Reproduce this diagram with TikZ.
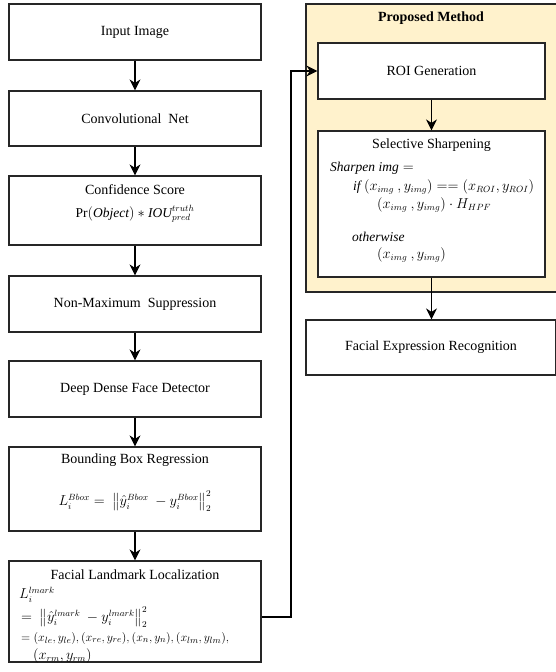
\documentclass[tikz,border=0pt]{standalone}
\usepackage{amsmath}
\usepackage{amssymb}
\usepackage{fontspec}
\setmainfont{Liberation Serif}
\usetikzlibrary{arrows.meta}
\definecolor{panelyellow}{RGB}{255,242,204}
\def\panelbox{(306,4) rectangle (558,292)}

\tikzset{
  box/.style={draw=black!85,line width=1.2pt,fill=white,inner sep=0pt},
  title/.style={font=\fontsize{14}{16}\selectfont},
  eqn/.style={font=\fontsize{13.5}{15}\selectfont,inner sep=0pt},
  arr/.style={-{Stealth[length=11pt,width=11pt,inset=3.5pt]},line width=1.1pt,black}
}

\begin{document}
\begin{tikzpicture}[x=1pt,y=-1pt]
			\useasboundingbox (0,0) rectangle (555,672);
			\fill[panelyellow] \panelbox;
			\draw[black!85,line width=1.2pt] (558,4) -- (306,4) -- (306,292) -- (558,292);
			\node[title,font=\fontsize{14}{16}\selectfont\bfseries] (panel) at (431,18) {Proposed Method};

			% left column
			\node[box,title,minimum width=252,minimum height=56] (inimg) at (135,32) {Input Image};
			\node[box,title,minimum width=252,minimum height=55] (convnet) at (135,118.5) {Convolutional\ \ Net};
			\node[box,minimum width=252,minimum height=69] (conf) at (135,210.5) {};
			\node[title] (conftitle) at (135,190) {Confidence Score};
			\node[eqn] (confeq) at (135,214) {$\Pr(\mathit{Object})*\mathit{IOU}_{pred}^{truth}$};
			\node[box,title,minimum width=252,minimum height=56] (nms) at (135,304) {Non-Maximum\ \ Suppression};
			\node[box,title,minimum width=252,minimum height=56] (ddfd) at (135,389) {Deep Dense Face Detector};
			\node[box,minimum width=252,minimum height=84] (bbox) at (135,489) {};
			\node[title] (bboxtitle) at (135,460) {Bounding Box Regression};
			\node[eqn] (bboxeq) at (135,501) {$L_i^{Bbox}=\ \bigl\|\hat{y}_i^{Bbox}\ -y_i^{Bbox}\bigr\|_2^2$};
			\node[box,minimum width=252,minimum height=101] (lmk) at (135,611.5) {};
			\node[title] (lmktitle) at (135,575) {Facial Landmark Localization};
			\node[eqn,anchor=west] (lmkeq1) at (19,595) {$L_i^{lmark}$};
			\node[eqn,anchor=west] (lmkeq2) at (21,617) {$=\ \bigl\|\hat{y}_i^{lmark}\ -y_i^{lmark}\bigr\|_2^2$};
			\node[eqn,font=\fontsize{12.6}{14}\selectfont,anchor=west] (lmkeq3) at (21,638) {$=(x_{le},y_{le}),(x_{re},y_{re}),(x_n,y_n),(x_{lm},y_{lm}),$};
			\node[eqn,anchor=west] (lmkeq4) at (33,656) {$(x_{rm},y_{rm})$};

			% right column
			\node[box,title,minimum width=227,minimum height=56] (roi) at (431.5,71) {ROI Generation};
			\node[box,minimum width=227,minimum height=146] (sharp) at (431.5,204) {};
			\node[title] (sharptitle) at (431.5,145) {Selective Sharpening};
			\node[eqn,anchor=west] (sharpeq1) at (330,168) {$\mathit{Sharpen\ img}=$};
			\node[eqn,anchor=west] (sharpeq2) at (353,187) {$\mathit{if}\ (x_{img}\ ,y_{img})==(x_{ROI},y_{ROI})$};
			\node[eqn,anchor=west] (sharpeq3) at (377,205) {$(x_{img}\ ,y_{img})\cdot H_{HPF}$};
			\node[eqn,anchor=west] (sharpeq4) at (352,237) {$\mathit{otherwise}$};
			\node[eqn,anchor=west] (sharpeq5) at (377,255) {$(x_{img}\ ,y_{img})$};
			\node[box,title,minimum width=250,minimum height=55] (fer) at (431,347.5) {Facial Expression Recognition};

			% connectors
			\draw[arr] (inimg) -- (convnet);
			\draw[arr] (convnet) -- (conf);
			\draw[arr] (conf) -- (nms);
			\draw[arr] (nms) -- (ddfd);
			\draw[arr] (ddfd) -- (bbox);
			\draw[arr] (bbox) -- (lmk);
			\coordinate (turn) at (291,617);
			\draw[arr] (lmk.east |- turn) -- (turn) |- (roi.west);
			\draw[arr] (roi) -- (sharp);
			\draw[arr] (sharp.south) -- (sharp.south |- fer.north);
		\end{tikzpicture}
\end{document}
